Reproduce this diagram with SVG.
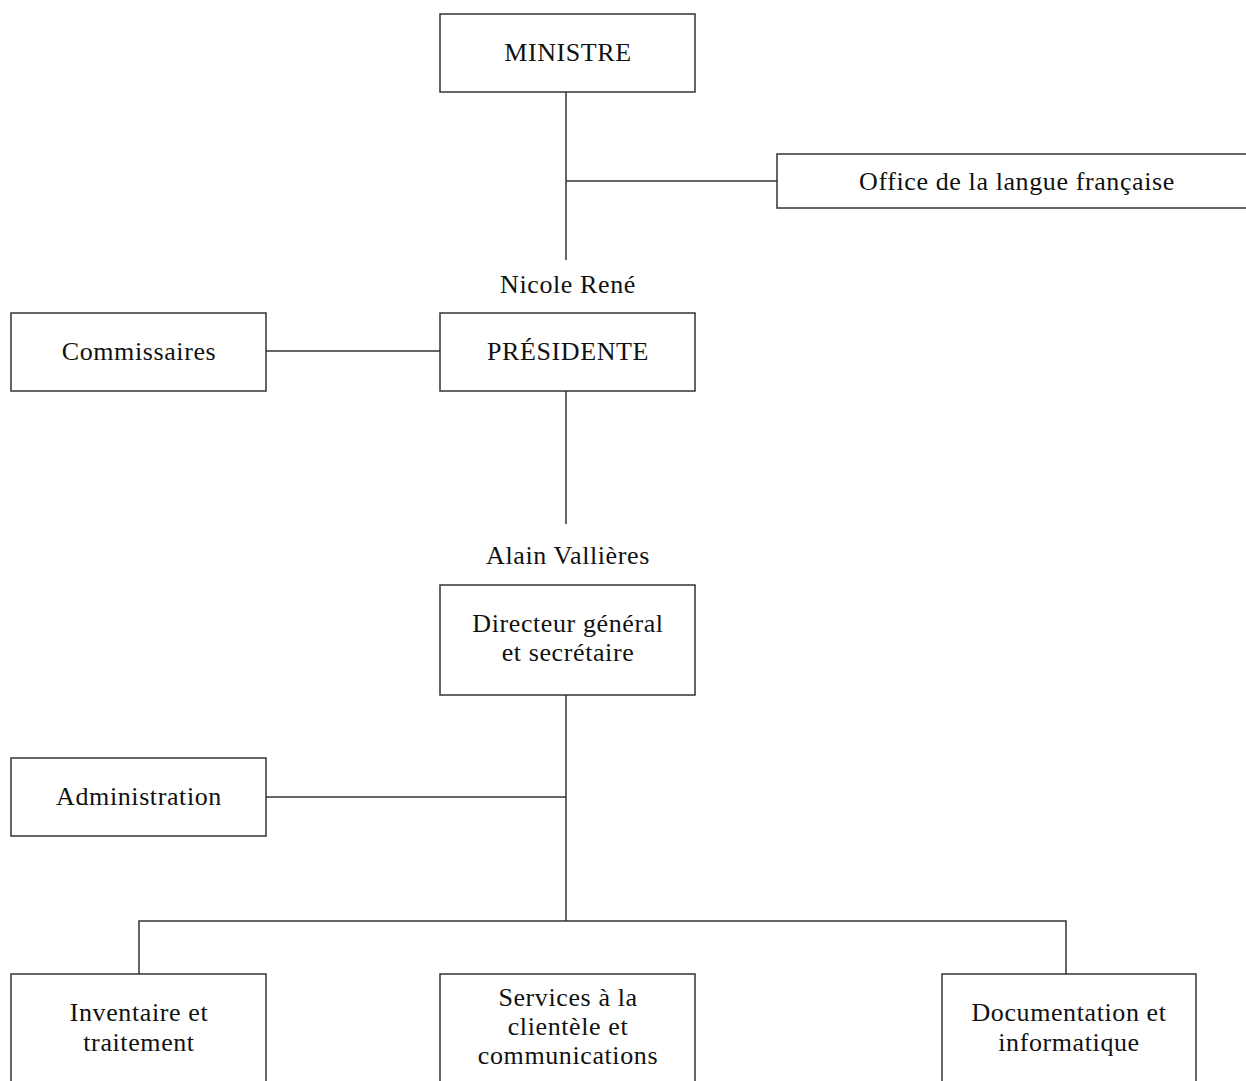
<svg xmlns="http://www.w3.org/2000/svg" width="1246" height="1081" viewBox="0 0 1246 1081">
<style>
.box{fill:#fff;stroke:#333;stroke-width:1.5}
.ln{stroke:#333;stroke-width:1.5;fill:none}
text{font-family:"Liberation Serif","DejaVu Serif",serif;font-size:26px;letter-spacing:0.6px;fill:#111;text-anchor:middle}
</style>
<rect width="1246" height="1081" fill="#fff"/>
<g id="connectors">
<path class="ln" d="M566 92V260M566 181H777"/>
<path class="ln" d="M266 351H440M566 391V524"/>
<path class="ln" d="M566 695V921M266 797H566M139 974V921H1066V974"/>
</g>
<g id="ministre"><rect class="box" x="440" y="14" width="255" height="78"/><text x="568" y="61">MINISTRE</text></g>
<g id="office"><rect class="box" x="777" y="154" width="480" height="54"/><text x="1017" y="190">Office de la langue française</text></g>
<g id="presidente"><text x="568" y="293">Nicole René</text><rect class="box" x="440" y="313" width="255" height="78"/><text x="568" y="360">PRÉSIDENTE</text></g>
<g id="commissaires"><rect class="box" x="11" y="313" width="255" height="78"/><text x="139" y="360">Commissaires</text></g>
<g id="directeur"><text x="568" y="564">Alain Vallières</text><rect class="box" x="440" y="585" width="255" height="110"/><text x="568" y="632">Directeur général</text><text x="568" y="661">et secrétaire</text></g>
<g id="administration"><rect class="box" x="11" y="758" width="255" height="78"/><text x="139" y="805">Administration</text></g>
<g id="inventaire"><rect class="box" x="11" y="974" width="255" height="120"/><text x="139" y="1021">Inventaire et</text><text x="139" y="1051">traitement</text></g>
<g id="services"><rect class="box" x="440" y="974" width="255" height="120"/><text x="568" y="1006">Services à la</text><text x="568" y="1035">clientèle et</text><text x="568" y="1064">communications</text></g>
<g id="documentation"><rect class="box" x="942" y="974" width="254" height="120"/><text x="1069" y="1021">Documentation et</text><text x="1069" y="1051">informatique</text></g>
</svg>
